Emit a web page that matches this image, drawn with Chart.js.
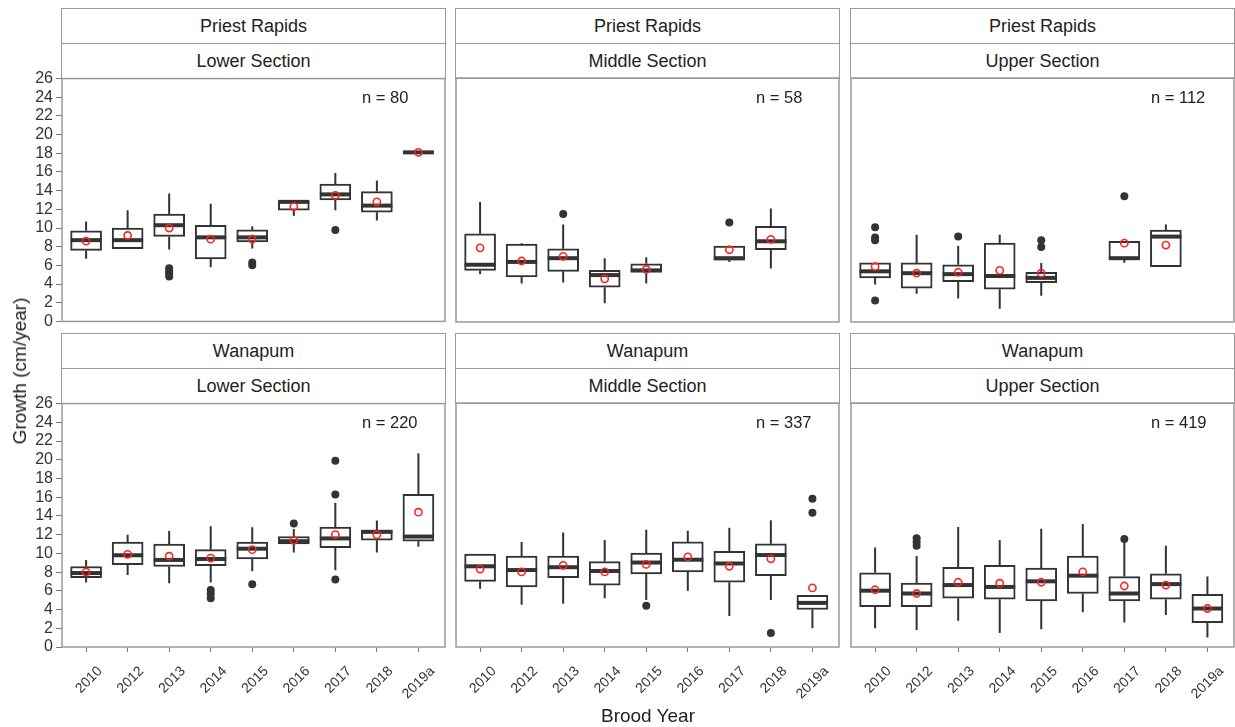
<!DOCTYPE html>
<html>
<head>
<meta charset="utf-8">
<script src="https://cdn.jsdelivr.net/npm/chart.js@4.4.1/dist/chart.umd.min.js"></script>
<style>
  html, body { margin: 0; padding: 0; background: #fff; }
  body { width: 1235px; height: 727px; position: relative; overflow: hidden;
         font-family: "Liberation Sans", Arial, Helvetica, sans-serif; color: #222; }
  .strip { position: absolute; box-sizing: border-box; border: 1.5px solid #9a9a9a; background: #fff; }
  .strip div { height: 50%; display: flex; align-items: center; justify-content: center;
               font-size: 18px; box-sizing: border-box; color: #222; }
  .strip div + div { border-top: 1.5px solid #9a9a9a; }
  canvas { position: absolute; }
  .title { position: absolute; font-size: 19px; white-space: nowrap; color: #222; }
</style>
</head>
<body>
<script>
// Brood years on the x axis
const years = ['2010', '2012', '2013', '2014', '2015', '2016', '2017', '2018', '2019a'];
// Facet labels: reservoir (rows) and section (columns)
const reaches = ['Priest Rapids', 'Wanapum'];
const sections = ['Lower Section', 'Middle Section', 'Upper Section'];
// Sample size per panel (PR Lower, PR Middle, PR Upper, W Lower, W Middle, W Upper)
const sampleSizes = [80, 58, 112, 220, 337, 419];
// Growth axis ticks (cm/year)
const yTicks = [0, 2, 4, 6, 8, 10, 12, 14, 16, 18, 20, 22, 24, 26];

// Box-plot statistics, one row per panel, one entry per brood year (null = no fish)
const whiskerLow = [
  [6.7, 7.8, 7.7, 5.8, 7.8, 11.3, 11.9, 10.8, 18.1],
  [5.1, 4.1, 4.2, 2.0, 4.1, null, 6.4, 5.7, null],
  [4.0, 3.0, 2.5, 1.4, 2.8, null, 6.3, 5.9, null],
  [6.9, 7.7, 6.8, 6.9, 8.1, 10.1, 8.2, 10.1, 10.7],
  [6.2, 4.5, 4.6, 5.2, 5.0, 6.0, 3.3, 5.0, 2.0],
  [2.0, 1.8, 2.8, 1.5, 1.9, 3.7, 2.6, 3.4, 1.0]
];
const lowerQuartile = [
  [7.6, 7.8, 9.1, 6.7, 8.5, 11.9, 13.0, 11.7, 18.1],
  [5.5, 4.8, 5.4, 3.7, 5.3, null, 6.6, 7.7, null],
  [4.7, 3.6, 4.3, 3.5, 4.2, null, 6.7, 5.9, null],
  [7.4, 8.8, 8.6, 8.7, 9.4, 11.0, 10.6, 11.4, 11.3],
  [7.0, 6.4, 7.4, 6.6, 7.8, 8.0, 6.9, 7.6, 4.0],
  [4.3, 4.3, 5.2, 5.1, 4.9, 5.7, 4.9, 5.1, 2.6]
];
const median = [
  [8.7, 8.7, 10.3, 9.0, 9.0, 12.8, 13.6, 12.4, 18.1],
  [6.1, 6.4, 6.8, 5.0, 5.5, null, 6.8, 8.6, null],
  [5.4, 5.2, 5.1, 4.9, 4.7, null, 6.8, 9.1, null],
  [7.9, 9.8, 9.3, 9.4, 10.5, 11.3, 11.6, 12.3, 11.8],
  [8.6, 8.2, 8.5, 8.1, 9.0, 9.3, 8.9, 9.8, 4.7],
  [6.0, 5.7, 6.6, 6.4, 7.0, 7.6, 5.7, 6.7, 4.1]
];
const upperQuartile = [
  [9.7, 10.0, 11.5, 10.3, 9.8, 12.9, 14.7, 13.9, 18.1],
  [9.4, 8.3, 7.8, 5.5, 6.2, null, 8.1, 10.2, null],
  [6.3, 6.3, 6.1, 8.4, 5.3, null, 8.6, 9.8, null],
  [8.6, 11.2, 11.0, 10.4, 11.2, 11.8, 12.8, 12.5, 16.3],
  [9.9, 9.7, 9.7, 9.1, 10.0, 11.2, 10.2, 11.0, 5.5],
  [7.9, 6.8, 8.5, 8.7, 8.4, 9.7, 7.5, 7.8, 5.6]
];
const whiskerHigh = [
  [10.7, 11.9, 13.7, 12.6, 10.2, 12.9, 15.9, 15.1, 18.1],
  [12.8, 8.4, 10.4, 6.8, 6.9, null, 8.1, 12.1, null],
  [6.3, 9.3, 8.1, 9.3, 6.3, null, 8.6, 10.4, null],
  [9.3, 12.0, 12.4, 12.9, 12.8, 12.6, 15.4, 13.5, 20.7],
  [9.9, 11.2, 12.2, 11.4, 12.5, 12.4, 12.7, 13.5, 5.5],
  [10.6, 9.7, 12.8, 11.4, 12.6, 13.1, 11.2, 10.8, 7.5]
];
const mean = [
  [8.6, 9.2, 10.0, 8.8, 8.8, 12.3, 13.5, 12.8, 18.1],
  [7.9, 6.5, 7.0, 4.6, 5.6, null, 7.7, 8.8, null],
  [5.9, 5.2, 5.3, 5.5, 5.2, null, 8.4, 8.2, null],
  [8.0, 9.9, 9.7, 9.5, 10.4, 11.4, 12.0, 12.0, 14.4],
  [8.3, 8.0, 8.7, 8.0, 8.8, 9.6, 8.6, 9.4, 6.3],
  [6.1, 5.7, 6.9, 6.8, 6.9, 8.0, 6.5, 6.6, 4.1]
];
const outliers = [
  [[], [], [5.7, 5.4, 5.1, 4.8], [], [6.3, 6.0], [], [9.8], [], []],
  [[], [], [11.5], [], [], [], [10.6], [], []],
  [[10.1, 9.0, 8.7, 2.3], [], [9.1], [], [8.7, 8.0], [], [13.4], [], []],
  [[], [], [], [6.1, 5.7, 5.2], [6.7], [13.2], [19.9, 16.3, 7.2], [], []],
  [[], [], [], [], [4.4], [], [], [1.5], [15.8, 14.3]],
  [[], [11.6, 11.2, 10.8], [], [], [], [], [11.5], [], []]
];

// Page layout (px)
const colLeft = [62, 456, 851];
const plotW = 383;
const rowTop = [8, 333];
const stripH = 70;
const plotH = 244;
const yAxisW = 62;
const xAxisH = 60;
const PAD = 12;

const FONT = '"Liberation Sans", Arial, Helvetica, sans-serif';
const INK = '#333';
const FRAME = '#9a9a9a';

// Whiskers and medians drawn right after the boxes, using the chart scales
const boxParts = {
  id: 'boxParts',
  afterDatasetDraw(chart, args) {
    if (args.meta.type !== 'bar') return;
    const p = chart.options.plugins.boxParts.panel;
    const ys = chart.scales.y;
    const ctx = chart.ctx;
    const raw = chart.data.datasets[args.index].data;
    ctx.save();
    ctx.strokeStyle = INK;
    args.meta.data.forEach((bar, j) => {
      const i = raw[j].x;
      const x = bar.x;
      const half = bar.width / 2;
      ctx.lineWidth = 2;
      ctx.beginPath();
      ctx.moveTo(x, ys.getPixelForValue(upperQuartile[p][i]));
      ctx.lineTo(x, ys.getPixelForValue(whiskerHigh[p][i]));
      ctx.moveTo(x, ys.getPixelForValue(lowerQuartile[p][i]));
      ctx.lineTo(x, ys.getPixelForValue(whiskerLow[p][i]));
      ctx.stroke();
      const ym = ys.getPixelForValue(median[p][i]);
      ctx.lineWidth = 4;
      ctx.beginPath();
      ctx.moveTo(x - half, ym);
      ctx.lineTo(x + half, ym);
      ctx.stroke();
    });
    ctx.restore();
  }
};

// Panel frame and sample-size note
const panelFrame = {
  id: 'panelFrame',
  beforeDatasetsDraw(chart) {
    const a = chart.chartArea, ctx = chart.ctx;
    ctx.save();
    ctx.strokeStyle = FRAME;
    ctx.lineWidth = 1.5;
    ctx.strokeRect(a.left, a.top, a.right - a.left, a.bottom - a.top);
    ctx.restore();
  },
  afterDraw(chart) {
    const a = chart.chartArea, ctx = chart.ctx;
    const p = chart.options.plugins.panelFrame.panel;
    ctx.save();
    ctx.fillStyle = '#222';
    ctx.font = '16.5px ' + FONT;
    ctx.textAlign = 'left';
    ctx.textBaseline = 'middle';
    ctx.fillText('n = ' + sampleSizes[p], a.left + 300, a.top + 20);
    ctx.restore();
  }
};

function addStrip(r, c) {
  const d = document.createElement('div');
  d.className = 'strip';
  d.style.left = (colLeft[c] - 0.75) + 'px';
  d.style.top = rowTop[r] + 'px';
  d.style.width = (plotW + 1.5) + 'px';
  d.style.height = (stripH + 0.75) + 'px';
  const a = document.createElement('div');
  a.textContent = reaches[r];
  const b = document.createElement('div');
  b.textContent = sections[c];
  d.appendChild(a);
  d.appendChild(b);
  document.body.appendChild(d);
}

function makePanel(p) {
  const r = Math.floor(p / 3), c = p % 3;
  const showY = c === 0, showX = r === 1;
  const padL = showY ? 0 : PAD;
  const padB = showX ? 0 : PAD;
  const left = colLeft[c] - (showY ? yAxisW : PAD);
  const top = rowTop[r] + stripH - PAD;
  const width = (colLeft[c] - left) + plotW + PAD;
  const height = PAD + plotH + (showX ? xAxisH : PAD);
  const canvas = document.createElement('canvas');
  canvas.width = width;
  canvas.height = height;
  canvas.style.left = left + 'px';
  canvas.style.top = top + 'px';
  canvas.style.width = width + 'px';
  canvas.style.height = height + 'px';
  document.body.appendChild(canvas);

  const boxes = [], outPts = [], meanPts = [];
  years.forEach((yr, i) => {
    if (median[p][i] == null) return;
    boxes.push({ x: i, y: [lowerQuartile[p][i], upperQuartile[p][i]] });
    meanPts.push({ x: i, y: mean[p][i] });
    outliers[p][i].forEach(v => outPts.push({ x: i, y: v }));
  });

  new Chart(canvas, {
    type: 'bar',
    data: {
      datasets: [
        { type: 'bar', data: boxes, backgroundColor: '#fff', borderColor: INK,
          borderWidth: 2, borderSkipped: false, barThickness: 31, grouped: false, order: 3 },
        { type: 'scatter', data: outPts, pointRadius: 4, pointBackgroundColor: INK,
          pointBorderWidth: 0, order: 2 },
        { type: 'scatter', data: meanPts, pointRadius: 3.6, pointBackgroundColor: 'rgba(0,0,0,0)',
          pointBorderColor: '#ff2222', pointBorderWidth: 1.6, order: 1 }
      ]
    },
    options: {
      responsive: false,
      maintainAspectRatio: false,
      animation: false,
      devicePixelRatio: 1,
      events: [],
      layout: { padding: { left: padL, right: PAD, top: PAD, bottom: padB } },
      plugins: {
        legend: { display: false },
        tooltip: { enabled: false },
        boxParts: { panel: p },
        panelFrame: { panel: p }
      },
      scales: {
        x: {
          type: 'linear',
          offset: false,
          min: -0.58,
          max: 8.64,
          display: showX,
          afterBuildTicks: s => { s.ticks = years.map((y, i) => ({ value: i })); },
          afterFit: s => { s.height = showX ? xAxisH : 0; },
          border: { display: false },
          grid: { offset: false, drawOnChartArea: false, drawTicks: true, tickLength: 5, color: '#777', lineWidth: 1 },
          ticks: {
            autoSkip: false,
            minRotation: 45,
            maxRotation: 45,
            padding: 11,
            labelOffset: 14,
            color: INK,
            font: { family: FONT, size: 14 },
            callback: v => years[v]
          }
        },
        y: {
          min: 0,
          max: 26,
          display: showY,
          afterBuildTicks: s => { s.ticks = yTicks.map(v => ({ value: v })); },
          afterFit: s => { s.width = showY ? yAxisW : 0; },
          border: { display: false },
          grid: { drawOnChartArea: false, drawTicks: true, tickLength: 6, color: '#777', lineWidth: 1 },
          ticks: {
            autoSkip: false,
            padding: 3,
            color: INK,
            font: { family: FONT, size: 16 },
            callback: v => String(v)
          }
        }
      }
    },
    plugins: [boxParts, panelFrame]
  });
}

for (let r = 0; r < 2; r++) for (let c = 0; c < 3; c++) addStrip(r, c);
for (let p = 0; p < 6; p++) makePanel(p);

// Axis titles
const yTitle = document.createElement('div');
yTitle.className = 'title';
yTitle.textContent = 'Growth (cm/year)';
yTitle.style.left = '20px';
yTitle.style.top = '371px';
yTitle.style.transform = 'translate(-50%, -50%) rotate(-90deg)';
document.body.appendChild(yTitle);

const xTitle = document.createElement('div');
xTitle.className = 'title';
xTitle.textContent = 'Brood Year';
xTitle.style.left = '648px';
xTitle.style.top = '716px';
xTitle.style.transform = 'translate(-50%, -50%)';
document.body.appendChild(xTitle);
</script>
</body>
</html>
